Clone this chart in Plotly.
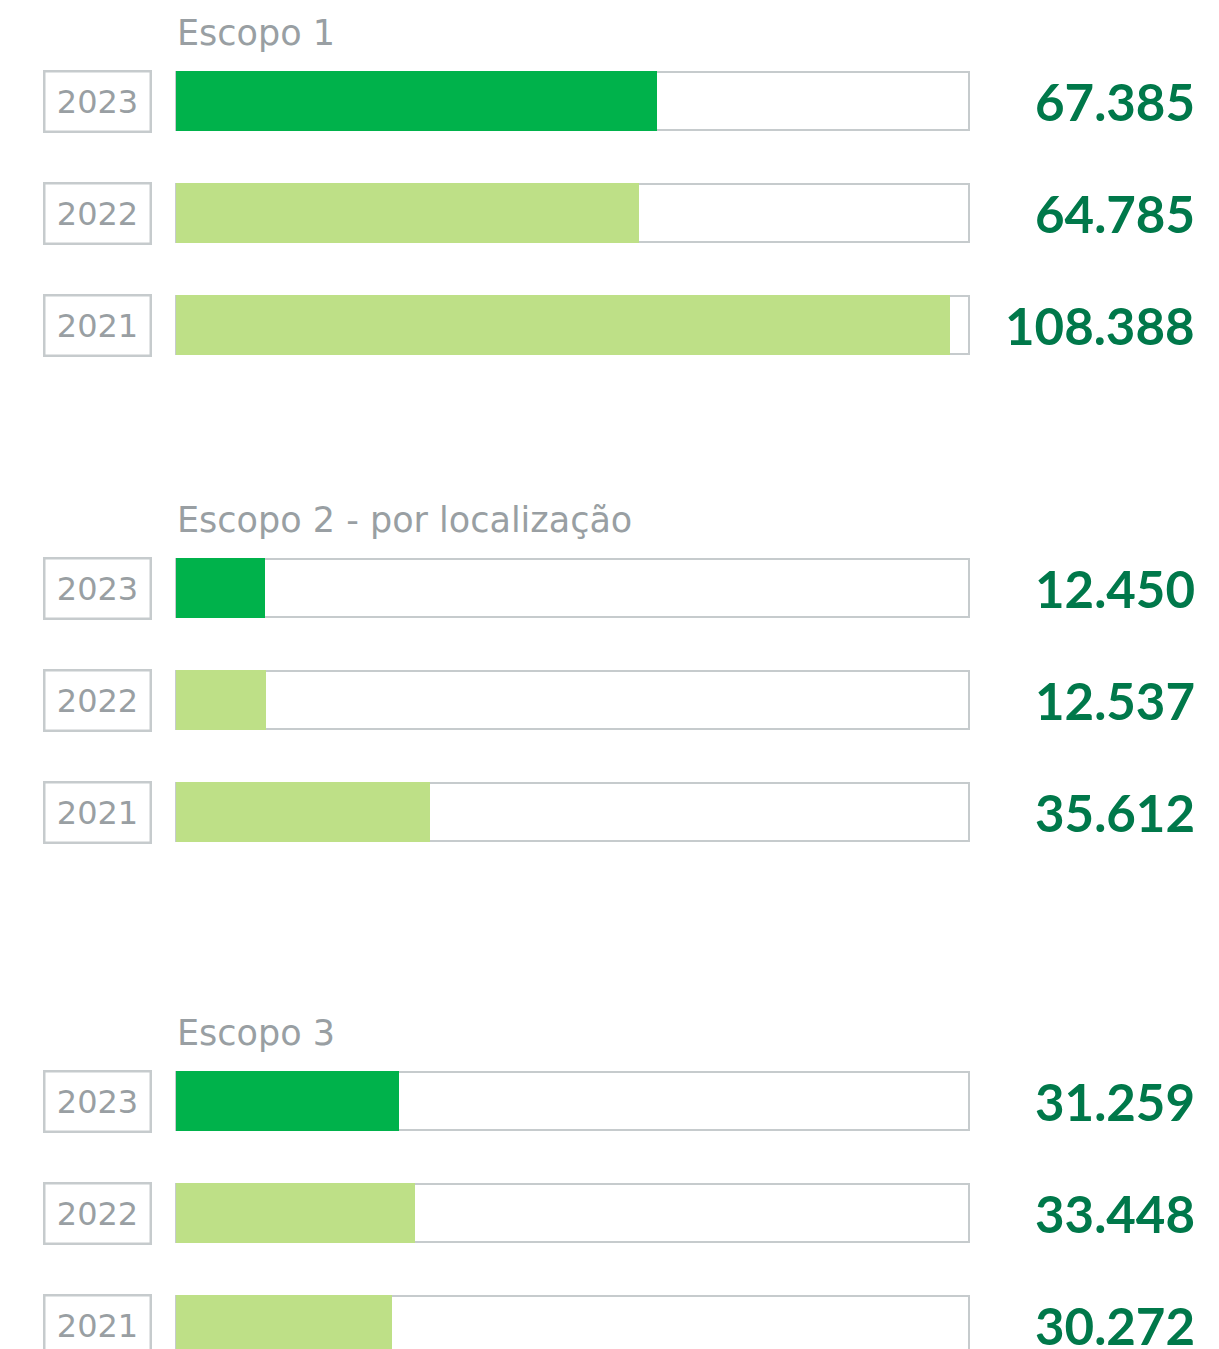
import plotly.graph_objects as go

# Emissions per scope (tCO2e), rows ordered 2023, 2022, 2021
years = ["2023", "2022", "2021"]
scope_titles = ["Escopo 1", "Escopo 2 - por localização", "Escopo 3"]
escopo1 = [67385, 64785, 108388]
escopo2 = [12450, 12537, 35612]
escopo3 = [31259, 33448, 30272]
scope_values = [escopo1, escopo2, escopo3]
scale_max = 111000  # full length of the background track

# Layout (pixel-based canvas)
W, H = 1219, 1349
track_left, track_right = 176, 969
group_tops = [71, 558, 1071]
row_step = 112
bar_h = 60

DARK_GREEN = "#00B24B"
LIGHT_GREEN = "#BEE087"
VALUE_GREEN = "#00784A"
GRAY_TEXT = "#999FA3"
GRAY_LINE = "#C6CBCD"
LABEL_FONT = "DejaVu Sans"
VALUE_FONT = "Lato"

def fmt_br(v):
    return f"{v:,}".replace(",", ".")

# x axis mapped so value 0 sits at track_left and scale_max at track_right
px_per_unit = (track_right - track_left) / scale_max
dom_l, dom_r = 160, 990
x_range = [(dom_l - track_left) / px_per_unit, (dom_r - track_left) / px_per_unit]

fig = go.Figure()
annotations = []

for g, (title, vals) in enumerate(zip(scope_titles, scope_values)):
    centers = [group_tops[g] + bar_h / 2 + i * row_step for i in range(len(years))]
    # background track
    fig.add_trace(go.Bar(
        x=[scale_max] * len(vals), y=centers, orientation="h", width=bar_h - 2,
        marker=dict(color="white", line=dict(color=GRAY_LINE, width=2)),
        hoverinfo="skip", showlegend=False,
    ))
    # value bars
    fig.add_trace(go.Bar(
        x=vals, y=centers, orientation="h", width=bar_h,
        marker=dict(color=[DARK_GREEN if y == "2023" else LIGHT_GREEN for y in years],
                    line=dict(width=0)),
        showlegend=False, hovertemplate="%{x}<extra></extra>",
    ))
    annotations.append(dict(
        text=title, xref="paper", yref="y", x=175 / W, y=group_tops[g] - 38,
        xanchor="left", yanchor="middle", showarrow=False,
        font=dict(family=LABEL_FONT, size=35, color=GRAY_TEXT),
    ))
    for yr, v, c in zip(years, vals, centers):
        annotations.append(dict(
            text=yr, xref="paper", yref="y", x=97 / W, y=c,
            xanchor="center", yanchor="middle", showarrow=False,
            width=104, height=58, borderwidth=2.5, borderpad=0,
            bordercolor=GRAY_LINE, bgcolor="white",
            font=dict(family=LABEL_FONT, size=32, color=GRAY_TEXT),
        ))
        annotations.append(dict(
            text=f"<b>{fmt_br(v)}</b>", xref="paper", yref="y", x=1197 / W, y=c,
            xanchor="right", yanchor="middle", showarrow=False,
            font=dict(family=VALUE_FONT, size=51, color=VALUE_GREEN),
        ))

fig.update_layout(
    width=W, height=H, margin=dict(l=0, r=0, t=0, b=0),
    paper_bgcolor="white", plot_bgcolor="white",
    barmode="overlay", bargap=0,
    xaxis=dict(domain=[dom_l / W, dom_r / W], range=x_range, visible=False, fixedrange=True),
    yaxis=dict(domain=[0, 1], range=[H, 0], visible=False, fixedrange=True),
    annotations=annotations,
)

fig.write_html("out.html")
